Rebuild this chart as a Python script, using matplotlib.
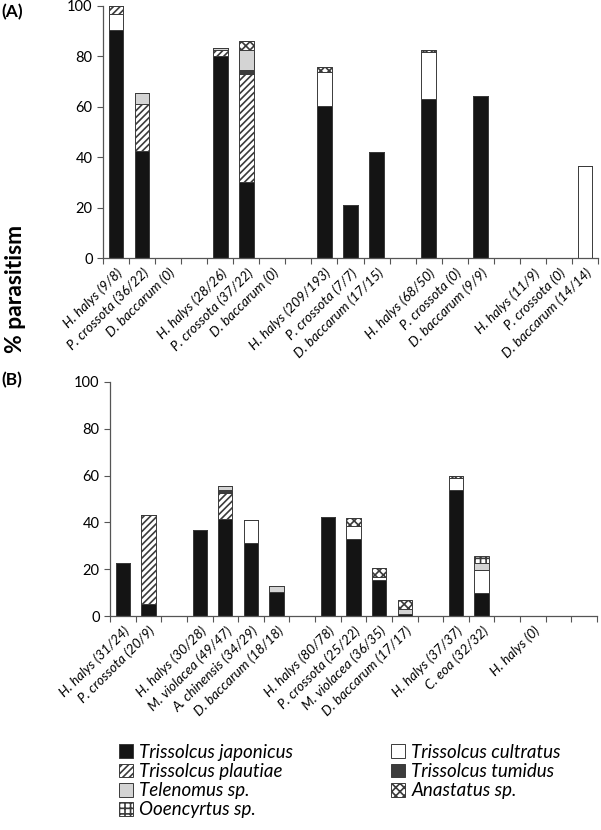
import matplotlib
matplotlib.use('Agg')
import matplotlib.pyplot as plt
import numpy as np
from matplotlib.patches import Patch

plt.rcParams['font.family'] = ['Lato', 'DejaVu Sans']
plt.rcParams['hatch.linewidth'] = 1.2

# --- data -----------------------------------------------------------------
labels_a = ['H. halys (9/8)', 'P. crossota (36/22)', 'D. baccarum (0)', '',
            'H. halys (28/26)', 'P. crossota (37/22)', 'D. baccarum (0)', '',
            'H. halys (209/193)', 'P. crossota (7/7)', 'D. baccarum (17/15)', '',
            'H. halys (68/50)', 'P. crossota (0)', 'D. baccarum (9/9)', '',
            'H. halys (11/9)', 'P. crossota (0)', 'D. baccarum (14/14)']
japonicus_a = [90.5, 42.5, 0, 0, 80.0, 30.2, 0, 0, 60.4, 21.2, 42.0, 0, 63.1, 0, 64.1, 0, 0, 0, 0]
cultratus_a = [6.5, 0, 0, 0, 0, 0, 0, 0, 13.5, 0, 0, 0, 18.7, 0, 0, 0, 0, 0, 36.5]
plautiae_a = [3.0, 18.8, 0, 0, 2.5, 42.8, 0, 0, 0, 0, 0, 0, 0, 0, 0, 0, 0, 0, 0]
tumidus_a = [0, 0, 0, 0, 0, 1.5, 0, 0, 0, 0, 0, 0, 0, 0, 0, 0, 0, 0, 0]
telenomus_a = [0, 4.0, 0, 0, 0.9, 8.0, 0, 0, 0, 0, 0, 0, 0, 0, 0, 0, 0, 0, 0]
anastatus_a = [0, 0, 0, 0, 0, 3.6, 0, 0, 2.0, 0, 0, 0, 0.7, 0, 0, 0, 0, 0, 0]
ooencyrtus_a = [0] * 19

labels_b = ['H. halys (31/24)', 'P. crossota (20/9)', '',
            'H. halys (30/28)', 'M. violacea (49/47)', 'A. chinensis (34/29)', 'D. baccarum (18/18)', '',
            'H. halys (80/78)', 'P. crossota (25/22)', 'M. violacea (36/35)', 'D. baccarum (17/17)', '',
            'H. halys (37/37)', 'C. eoa (32/32)', '', 'H. halys (0)', '', '']
japonicus_b = [22.7, 5.1, 0, 36.9, 41.4, 31.4, 10.3, 0, 42.4, 33.0, 15.3, 1.0, 0, 53.9, 9.9, 0, 0, 0, 0]
cultratus_b = [0, 0, 0, 0, 0, 9.6, 0, 0, 0, 5.6, 1.5, 0, 0, 5.0, 9.7, 0, 0, 0, 0]
plautiae_b = [0, 38.2, 0, 0, 11.3, 0, 0, 0, 0, 0, 0, 0, 0, 0, 0, 0, 0, 0, 0]
tumidus_b = [0, 0, 0, 0, 1.2, 0, 0, 0, 0, 0, 0, 0, 0, 0, 0, 0, 0, 0, 0]
telenomus_b = [0, 0, 0, 0, 1.7, 0, 2.4, 0, 0, 0, 0, 2.1, 0, 0, 3.1, 0, 0, 0, 0]
anastatus_b = [0, 0, 0, 0, 0, 0, 0, 0, 0, 3.1, 3.6, 3.6, 0, 1.0, 0, 0, 0, 0, 0]
ooencyrtus_b = [0, 0, 0, 0, 0, 0, 0, 0, 0, 0, 0, 0, 0, 0, 3.0, 0, 0, 0, 0]

species = ['Trissolcus japonicus', 'Trissolcus cultratus', 'Trissolcus plautiae',
           'Trissolcus tumidus', 'Telenomus sp.', 'Anastatus sp.', 'Ooencyrtus sp.']
styles = {
    'Trissolcus japonicus': dict(color='#141414', hatch=None),
    'Trissolcus cultratus': dict(color='white', hatch=None),
    'Trissolcus plautiae': dict(color='white', hatch='/////'),
    'Trissolcus tumidus': dict(color='#3c3c3c', hatch=None),
    'Telenomus sp.': dict(color='#d4d4d4', hatch=None),
    'Anastatus sp.': dict(color='white', hatch='xxxx'),
    'Ooencyrtus sp.': dict(color='white', hatch='+++'),
}

fig = plt.figure(figsize=(6.01, 8.30), dpi=100)
ax_a = fig.add_axes([0.1714, 0.689, 0.8236, 0.3038])
ax_b = fig.add_axes([0.183, 0.2578, 0.8103, 0.282])


def draw_panel(ax, labels, series):
    x = np.arange(len(labels))
    bottom = np.zeros(len(labels))
    for name, vals in zip(species, series):
        vals = np.array(vals, dtype=float)
        st = styles[name]
        ax.bar(x, vals, width=0.56, bottom=bottom, color=st['color'],
               hatch=st['hatch'], edgecolor='#3a3a3a', linewidth=0.7)
        bottom += vals
    ax.set_xlim(-0.5, len(labels) - 0.5)
    ax.set_ylim(0, 100)
    ax.set_yticks([0, 20, 40, 60, 80, 100])
    ax.set_xticks(x)
    ax.set_xticklabels(labels, rotation=45, ha='right', rotation_mode='anchor',
                       style='italic', fontsize=9.8)
    ax.set_xticks(np.arange(len(labels) + 1) - 0.5, minor=True)
    ax.tick_params(axis='x', which='major', length=0, pad=6)
    ax.tick_params(axis='x', which='minor', length=4, width=0.8, color='#555555')
    ax.tick_params(axis='y', length=4, width=0.8, color='#555555', labelsize=10.5)
    for s in ['top', 'right']:
        ax.spines[s].set_visible(False)
    for s in ['left', 'bottom']:
        ax.spines[s].set_color('#555555')
        ax.spines[s].set_linewidth(0.9)


draw_panel(ax_a, labels_a, [japonicus_a, cultratus_a, plautiae_a, tumidus_a,
                            telenomus_a, anastatus_a, ooencyrtus_a])
draw_panel(ax_b, labels_b, [japonicus_b, cultratus_b, plautiae_b, tumidus_b,
                            telenomus_b, anastatus_b, ooencyrtus_b])

fig.text(0.003, 0.986, '(A)', fontsize=12.5, fontweight='bold', va='center')
fig.text(0.003, 0.542, '(B)', fontsize=12.5, fontweight='bold', va='center')
fig.text(0.025, 0.652, '% parasitism', fontsize=16.5, fontweight='bold',
         rotation=90, ha='center', va='center')

legend_order = ['Trissolcus japonicus', 'Trissolcus plautiae', 'Telenomus sp.',
                'Ooencyrtus sp.', 'Trissolcus cultratus', 'Trissolcus tumidus',
                'Anastatus sp.']
handles = [Patch(facecolor=styles[n]['color'], hatch=styles[n]['hatch'],
                 edgecolor='#3a3a3a', linewidth=0.7, label=n) for n in legend_order]
fig.legend(handles=handles, ncol=2, frameon=False, loc='upper left',
           bbox_to_anchor=(0.185, 0.113), prop=dict(style='italic', size=13.5),
           handlelength=0.75, handleheight=0.75, handletextpad=0.35,
           columnspacing=5.2, labelspacing=0.12, borderaxespad=0)

fig.savefig('out.png', dpi=100)
